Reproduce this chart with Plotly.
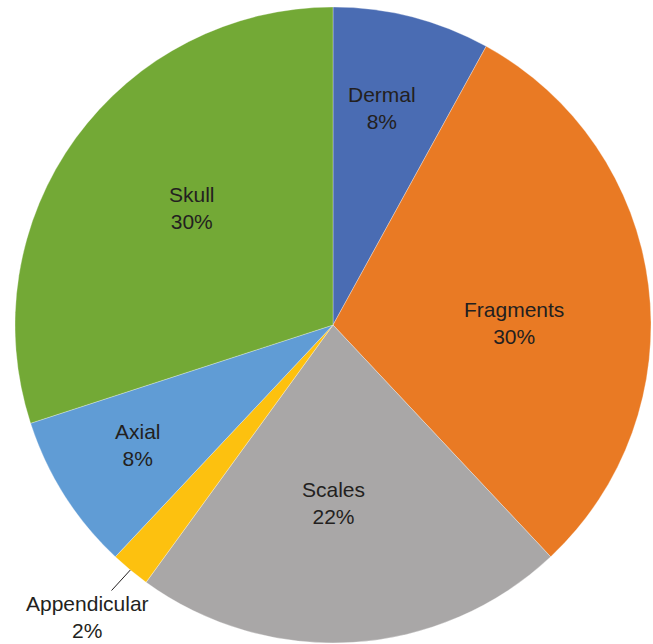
import math
import plotly.graph_objects as go

categories = ["Dermal", "Fragments", "Scales", "Appendicular", "Axial", "Skull"]
values = [8, 30, 22, 2, 8, 30]
colors = ["#4A6CB3", "#E97A24", "#A9A7A7", "#FDC10F", "#609CD5", "#73A936"]
outside_label = "Appendicular"
# label placement: fraction of radius and angular nudge (degrees) from slice mid-angle
label_radius = [0.70, 0.57, 0.56, 1.0, 0.72, 0.575]
label_nudge = [-1.6, 6.6, 3.3, 0.0, 0.7, 3.7]

FONT = dict(family="Liberation Sans, Arial, sans-serif", size=21, color="#231F20")

fig = go.Figure(go.Pie(
    labels=categories,
    values=values,
    sort=False,
    direction="clockwise",
    rotation=0,
    marker=dict(colors=colors, line=dict(color="rgba(255,255,255,0.5)", width=0.6)),
    textinfo="none",
    hoverinfo="label+percent",
    showlegend=False,
))

total = sum(values)
cum = 0
for cat, val, rf, nd in zip(categories, values, label_radius, label_nudge):
    mid = (cum + val / 2) / total * 2 * math.pi + math.radians(nd)
    cum += val
    px = 0.5 + 0.5 * rf * math.sin(mid)
    py = 0.5 + 0.5 * rf * math.cos(mid)
    text = f"{cat}<br>{val}%"
    if cat == outside_label:
        fig.add_annotation(
            x=px, y=py, xref="paper", yref="paper", text=text,
            showarrow=True, arrowhead=0, arrowwidth=1, arrowcolor="#231F20",
            ax=-43, ay=47, font=FONT,
        )
    else:
        fig.add_annotation(
            x=px, y=py, xref="paper", yref="paper", text=text,
            showarrow=False, xanchor="center", yanchor="middle", font=FONT,
        )

fig.update_layout(
    width=653,
    height=644,
    margin=dict(l=15, r=2, t=7, b=1),
    paper_bgcolor="white",
    plot_bgcolor="white",
)

fig.write_html("out.html", config={"displayModeBar": False},
               post_script="document.body.style.margin='0';")
